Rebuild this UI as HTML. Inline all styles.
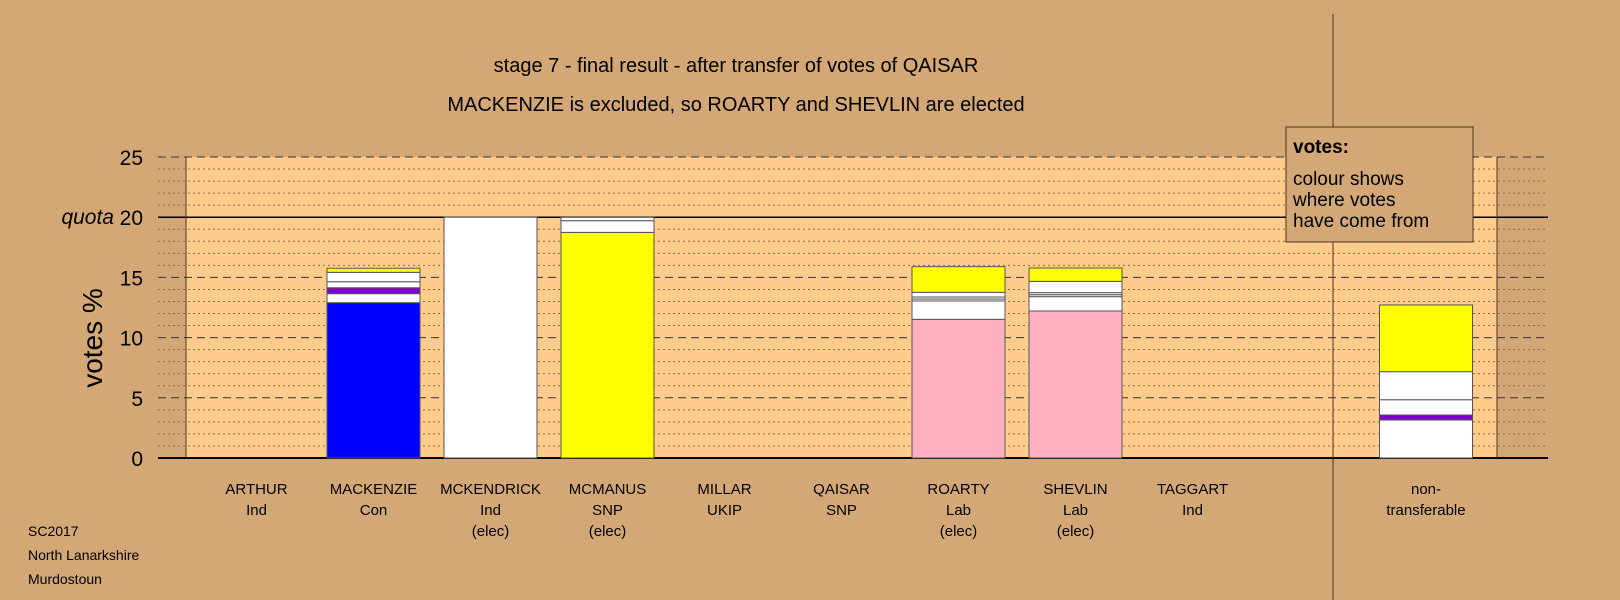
<!DOCTYPE html>
<html><head><meta charset="utf-8"><style>
html,body{margin:0;padding:0;background:#d4a876;}
svg{display:block;font-family:"Liberation Sans",sans-serif;}
</style></head><body>
<svg id="chart" width="1620" height="600" viewBox="0 0 1620 600">
<rect x="0" y="0" width="1620" height="600" fill="#d4a876"/>
<text x="736" y="72" font-size="20" text-anchor="middle">stage 7 - final result - after transfer of votes of QAISAR</text>
<text x="736" y="111" font-size="20" text-anchor="middle">MACKENZIE is excluded, so ROARTY and SHEVLIN are elected</text>
<g id="plot"></g>
<text transform="translate(102,338) rotate(-90)" font-size="28" text-anchor="middle">votes %</text>
<text x="114" y="224" font-size="21" font-style="italic" text-anchor="end">quota</text>
<g>
<rect x="1286" y="127" width="187" height="115" fill="#d4a876" stroke="#4a3520" stroke-width="1"/>
<text x="1293" y="153" font-size="19" font-weight="bold">votes:</text>
<text x="1293" y="185" font-size="19">colour shows</text>
<text x="1293" y="206" font-size="19">where votes</text>
<text x="1293" y="227" font-size="19">have come from</text>
</g>
<g font-size="14">
<text x="28" y="536">SC2017</text>
<text x="28" y="560">North Lanarkshire</text>
<text x="28" y="584">Murdostoun</text>
</g>
</svg>
<script>
const categories=["ARTHUR","MACKENZIE","MCKENDRICK","MCMANUS","MILLAR","QAISAR","ROARTY","SHEVLIN","TAGGART","non-"];
const subLabels=[["Ind"],["Con"],["Ind","(elec)"],["SNP","(elec)"],["UKIP"],["SNP"],["Lab","(elec)"],["Lab","(elec)"],["Ind"],["transferable"]];
const segValues=[[],[12.9,0.75,0.49,0.5,0.78,0.34],[20],[18.74,0.97,0.28],[],[],[11.52,1.52,0.16,0.17,0.39,2.13],[12.21,1.19,0.16,0.17,0.94,1.11],[],[3.16,0.41,1.27,2.33,5.54]];
const segColors=[[],["#0000ff","#ffffff","#8000d0","#ffffff","#ffffff","#ffff00"],["#ffffff"],["#ffff00","#ffffff","#ffffff"],[],[],["#ffb0c0","#ffffff","#ffffff","#ffffff","#ffffff","#ffff00"],["#ffb0c0","#ffffff","#ffffff","#ffffff","#ffffff","#ffff00"],[],["#ffffff","#8000d0","#ffffff","#ffffff","#ffff00"]];
const yTicks=[0,5,10,15,20,25];
const quota=20;
const NS="http://www.w3.org/2000/svg";
const plot=document.getElementById('plot');
const y0=458, unit=(458-157)/25;
function yS(v){return y0-v*unit;}
function xC(i){return i<9?256.5+i*117:1426;}
function mk(tag,attrs,parent){const e=document.createElementNS(NS,tag);for(const k in attrs)e.setAttribute(k,attrs[k]);(parent||plot).appendChild(e);return e;}
const bgL=mk('rect',{x:186,y:yS(25),width:1311,height:yS(0)-yS(25),fill:'#ffcc8c'});


for(let v=1;v<25;v++){
  if(v%5===0)continue;
  const g=mk('line',{x1:158,x2:1548,y1:yS(v),y2:yS(v),stroke:'#8a6a4a','stroke-width':1,'stroke-dasharray':'2,3'});
  
  
}
yTicks.forEach(v=>{
  const g=mk('line',{x1:158,x2:1548,y1:yS(v),y2:yS(v),stroke:v===0?'#000':'#333','stroke-width':v===0?2:1,'stroke-dasharray':(v===0||v===quota)?'':'8,5'});
  
  
  const t=mk('text',{x:143,y:yS(v)+8,'font-size':21,'text-anchor':'end'});
  t.textContent=v;
  
  
});
const ql=mk('line',{x1:158,x2:1548,y1:yS(quota),y2:yS(quota),stroke:'#000','stroke-width':1.5});


const lb=mk('line',{x1:186,x2:186,y1:yS(25),y2:yS(0),stroke:'#4a3520'});


const rb=mk('line',{x1:1497,x2:1497,y1:yS(25),y2:yS(0),stroke:'#4a3520'});


const dv=mk('line',{x1:1333,x2:1333,y1:14,y2:600,stroke:'#4a3520'});


categories.forEach((c,i)=>{
  let acc=0;
  segValues[i].forEach((v,j)=>{
    const r=mk('rect',{x:xC(i)-46.5,y:yS(acc+v),width:93,height:v*unit,fill:segColors[i][j],stroke:'#555','stroke-width':1});
    
    
    acc+=v;
  });
  const t=mk('text',{x:xC(i),y:494,'font-size':15,'text-anchor':'middle'});
  t.textContent=c;
  
  
  subLabels[i].forEach((s,k)=>{
    const u=mk('text',{x:xC(i),y:515+k*21,'font-size':15,'text-anchor':'middle'});
    u.textContent=s;
    
    
  });
});
</script>
</body></html>
